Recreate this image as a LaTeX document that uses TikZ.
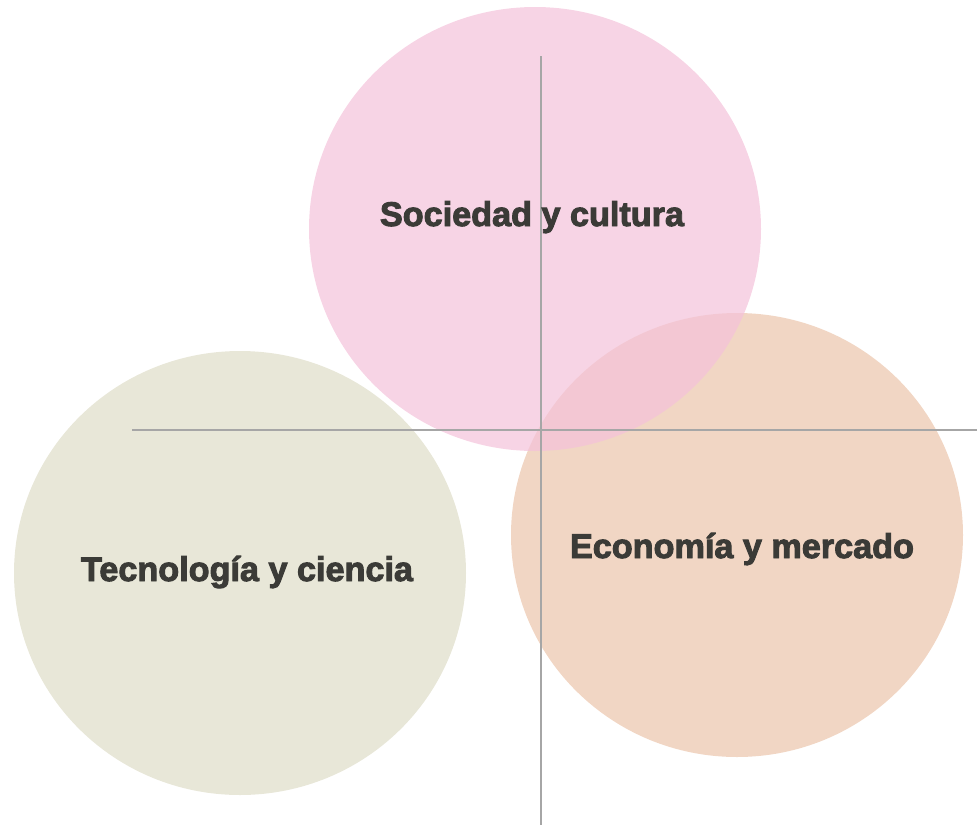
\documentclass[tikz,border=0pt]{standalone}
\usepackage{fontspec}
\setmainfont{Liberation Sans}
\newfontfamily\heavyfont[BoldFeatures={FakeBold=2.8}]{Liberation Sans}
\definecolor{pinkc}{HTML}{F4C2DA}
\definecolor{peachc}{HTML}{F1D6C4}
\definecolor{beigec}{HTML}{E8E7D8}
\definecolor{axisc}{HTML}{A6A6A6}
\definecolor{textc}{HTML}{3B3B37}
\begin{document}
\begin{tikzpicture}[x=1pt,y=-1pt,
   lbl/.style={anchor=base, text=textc, inner sep=0pt,
     font=\heavyfont\bfseries\fontsize{34.2}{40}\selectfont},
   axis/.style={draw=axisc, line width=1.2pt}]
   \useasboundingbox (0,0) rectangle (977,825);
   % circles
   \fill[beigec] (240,573) ellipse [x radius=226pt, y radius=222pt];
   \fill[peachc] (737,535) ellipse [x radius=226pt, y radius=222pt];
   \fill[pinkc, fill opacity=.7] (535,229) ellipse [x radius=226pt, y radius=222pt];
   % axes
   \coordinate (top) at (541,56);
   \coordinate (bot) at (541,825);
   \coordinate (lft) at (132,430);
   \coordinate (rgt) at (977,430);
   \draw [axis] (top) -- (bot);
   \draw [axis] (lft) -- (rgt);
   % labels
   \node (soc) [lbl] at (532,226) {Sociedad y cultura};
   \node (tec) [lbl] at (247,581) {Tecnología y ciencia};
   \node (eco) [lbl] at (742,558) {Economía y mercado};
\end{tikzpicture}
\end{document}
